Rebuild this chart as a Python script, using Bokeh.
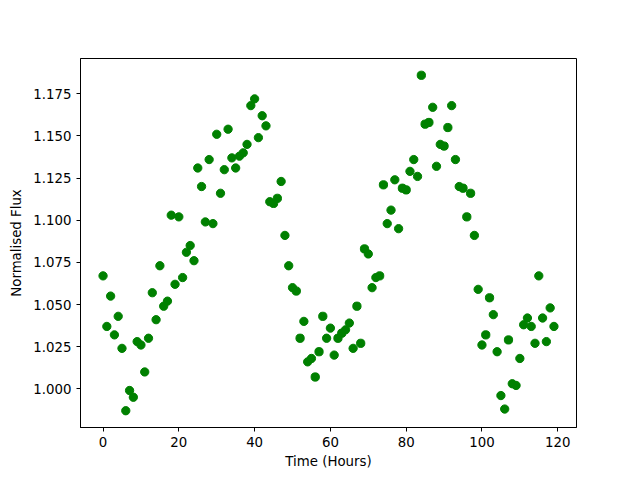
from bokeh.plotting import figure
from bokeh.models import Range1d, FixedTicker, PrintfTickFormatter
from bokeh.embed import file_html
from bokeh.resources import INLINE

# Time in hours
time_hours = list(range(120))

# Normalised flux values
flux = [
    1.067, 1.037, 1.055, 1.032, 1.043, 1.024, 0.987, 0.999, 0.995, 1.028,
    1.026, 1.010, 1.030, 1.057, 1.041, 1.073, 1.049, 1.052, 1.103, 1.062,
    1.102, 1.066, 1.081, 1.085, 1.076, 1.131, 1.120, 1.099, 1.136, 1.098,
    1.151, 1.116, 1.130, 1.154, 1.137, 1.131, 1.138, 1.140, 1.145, 1.168,
    1.172, 1.149, 1.162, 1.156, 1.111, 1.110, 1.113, 1.123, 1.091, 1.073,
    1.060, 1.058, 1.030, 1.040, 1.016, 1.018, 1.007, 1.022, 1.043, 1.030,
    1.036, 1.020, 1.030, 1.033, 1.035, 1.039, 1.024, 1.049, 1.027, 1.083,
    1.080, 1.060, 1.066, 1.067, 1.121, 1.098, 1.106, 1.124, 1.095, 1.119,
    1.118, 1.129, 1.136, 1.126, 1.186, 1.157, 1.158, 1.167, 1.132, 1.145,
    1.144, 1.155, 1.168, 1.136, 1.120, 1.119, 1.102, 1.116, 1.091, 1.059,
    1.026, 1.032, 1.054, 1.044, 1.022, 0.996, 0.988, 1.029, 1.003, 1.002,
    1.018, 1.038, 1.042, 1.037, 1.027, 1.067, 1.042, 1.028, 1.048, 1.037,
]

x_ticks = [0, 20, 40, 60, 80, 100, 120]
y_ticks = [1.000, 1.025, 1.050, 1.075, 1.100, 1.125, 1.150, 1.175]

xmin, xmax = min(time_hours), max(time_hours)
ymin, ymax = min(flux), max(flux)
xm = (xmax - xmin) * 0.05
ym = (ymax - ymin) * 0.05

p = figure(
    output_backend="svg",
    toolbar_location=None,
    frame_width=496,
    frame_height=369,
    min_border_left=80,
    min_border_right=48,
    min_border_top=58,
    min_border_bottom=37,
    x_range=Range1d(xmin - xm, xmax + xm),
    y_range=Range1d(ymin - ym, ymax + ym),
    background_fill_color="white",
    border_fill_color="white",
)

p.scatter(time_hours, flux, size=8.3, fill_color="#008000", line_color="#008000", line_width=1)

p.xgrid.visible = False
p.ygrid.visible = False
p.outline_line_color = "black"
p.outline_line_width = 1
p.outline_line_alpha = 1

p.xaxis.ticker = FixedTicker(ticks=x_ticks)
p.yaxis.ticker = FixedTicker(ticks=y_ticks)
p.yaxis.formatter = PrintfTickFormatter(format="%.3f")

for ax in (p.xaxis, p.yaxis):
    ax.axis_line_color = "black"
    ax.axis_line_width = 1
    ax.major_tick_line_color = "black"
    ax.major_tick_out = 4
    ax.major_tick_in = 0
    ax.minor_tick_line_color = None
    ax.major_label_text_font = "DejaVu Sans"
    ax.major_label_text_font_size = "10pt"
    ax.major_label_text_color = "black"
    ax.axis_label_text_font = "DejaVu Sans"
    ax.axis_label_text_font_size = "10pt"
    ax.axis_label_text_font_style = "normal"
    ax.axis_label_text_color = "black"
    ax.major_label_standoff = 5

p.xaxis.axis_label = "Time (Hours)"
p.yaxis.axis_label = "Normalised Flux"
p.xaxis.axis_label_standoff = 4
p.yaxis.axis_label_standoff = 6

open("out.html", "w").write(file_html(p, INLINE))
